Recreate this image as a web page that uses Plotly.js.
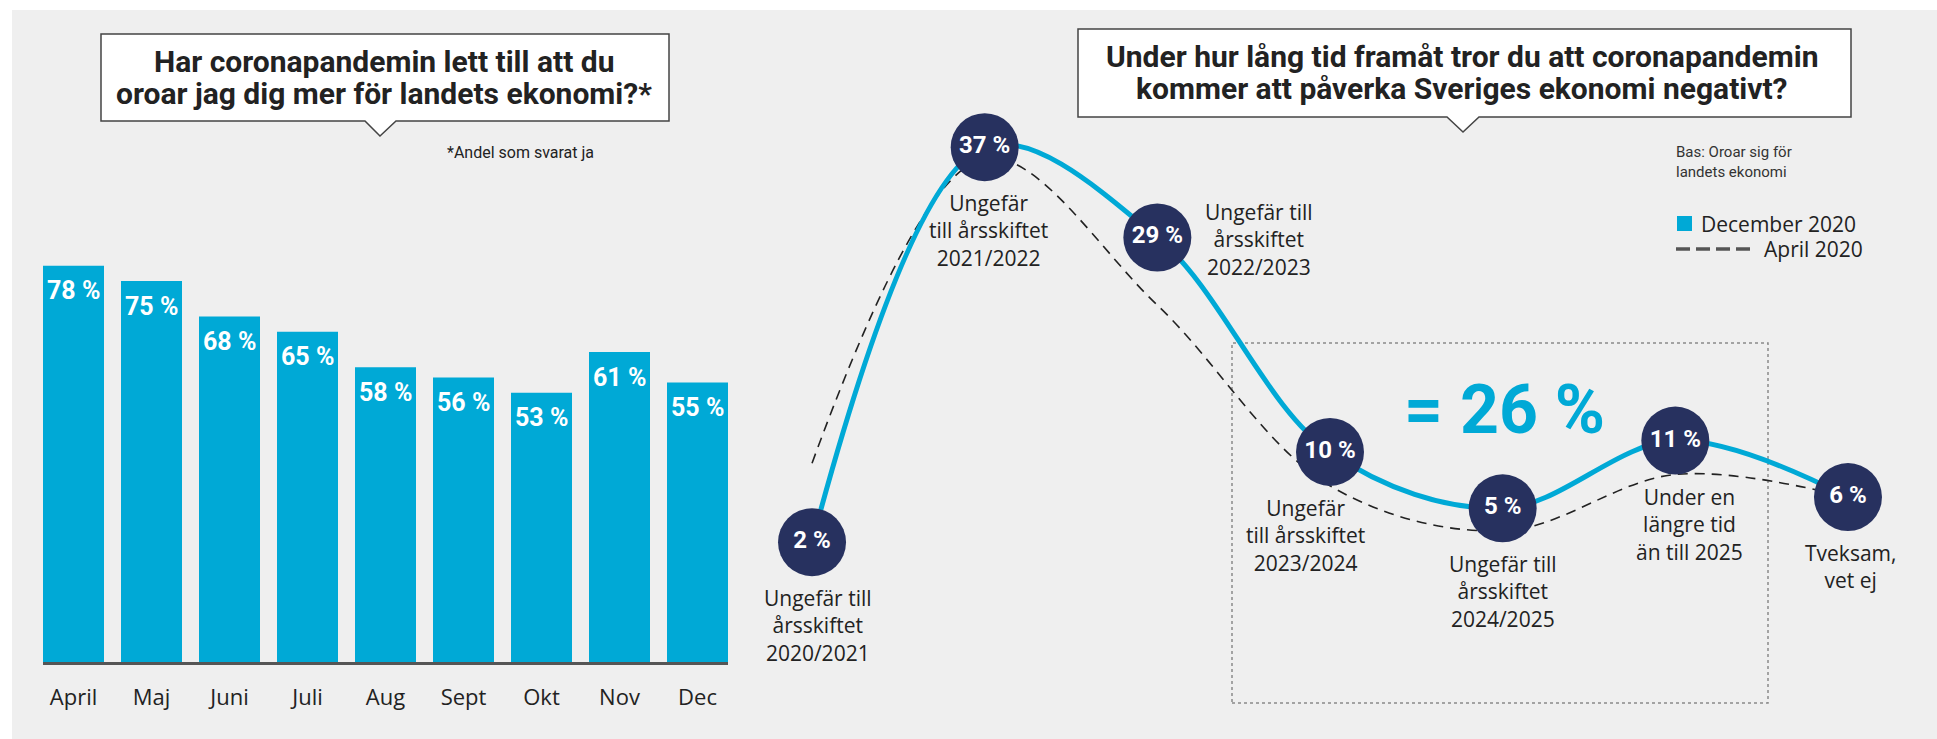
<!DOCTYPE html>
<html>
<head>
<meta charset="utf-8">
<script src="https://cdn.plot.ly/plotly-3.0.1.min.js"></script>
<style>
  html, body { margin: 0; padding: 0; background: #ffffff; }
  #chart { width: 1937px; height: 739px; }
</style>
</head>
<body>
<div id="chart"></div>
<script>
// ---------- DATA ----------
const months = ["April", "Maj", "Juni", "Juli", "Aug", "Sept", "Okt", "Nov", "Dec"];
const worriedShare = [78, 75, 68, 65, 58, 56, 53, 61, 55];

const horizons = [
  "Ungefär till<br>årsskiftet<br>2020/2021",
  "Ungefär<br>till årsskiftet<br>2021/2022",
  "Ungefär till<br>årsskiftet<br>2022/2023",
  "Ungefär<br>till årsskiftet<br>2023/2024",
  "Ungefär till<br>årsskiftet<br>2024/2025",
  "Under en<br>längre tid<br>än till 2025",
  "Tveksam,<br>vet ej"
];
const december2020 = [2, 37, 29, 10, 5, 11, 6];
const april2020 = [9, 36, 23, 7, 3, 8, 6];

const leftTitle = ["Har coronapandemin lett till att du", "oroar jag dig mer för landets ekonomi?*"];
const rightTitle = ["Under hur lång tid framåt tror du att coronapandemin", "kommer att påverka Sveriges ekonomi negativt?"];
const leftNote = "*Andel som svarat ja";
const baseNote = "Bas: Oroar sig för<br>landets ekonomi";
const highlightText = "= 26 %";
const legendNames = ["December 2020", "April 2020"];

// ---------- LAYOUT HELPERS ----------
const W = 1937, H = 739;
const px = x => x / W;
const py = y => 1 - y / H;
const BOLDFONT = "Roboto, 'Open Sans', 'DejaVu Sans', sans-serif";
const TEXTFONT = "'Open Sans', Roboto, 'DejaVu Sans', sans-serif";
const BLUE = "#00a9d6";
const NAVY = "#27315f";
const INK = "#222222";

// label placement offsets (style only): [xshift, yshift, yanchor]
const labelPlacement = [
  [6, -40, "top"], [4, -40, "top"], [102, -2, "middle"], [-25, -40, "top"],
  [0, -40, "top"], [14, -40, "top"], [3, -40, "top"]
];

function calloutPath(x0, y0, x1, y1, bl, br, tx, ty) {
  const p = [[x0, y0], [x1, y0], [x1, y1], [br, y1], [tx, ty], [bl, y1], [x0, y1]];
  return "M " + p.map(q => px(q[0]) + "," + py(q[1])).join(" L ") + " Z";
}

const traces = [
  {
    type: "bar",
    x: months,
    y: worriedShare,
    xaxis: "x",
    yaxis: "y",
    marker: { color: BLUE },
    hoverinfo: "skip",
    showlegend: false
  },
  {
    type: "scatter",
    mode: "lines",
    x: horizons,
    y: april2020,
    xaxis: "x2",
    yaxis: "y2",
    line: { color: "#222222", width: 1.6, dash: "10px,7px", shape: "spline", smoothing: 1 },
    hoverinfo: "skip",
    showlegend: false,
    cliponaxis: false
  },
  {
    type: "scatter",
    mode: "lines+markers+text",
    x: horizons,
    y: december2020,
    xaxis: "x2",
    yaxis: "y2",
    line: { color: BLUE, width: 5, shape: "spline", smoothing: 1 },
    marker: { color: NAVY, size: 68, line: { width: 0 } },
    text: december2020.map(v => v + " %"),
    textposition: "middle center",
    textfont: { family: BOLDFONT, size: 24, color: "#ffffff", weight: 700 },
    hoverinfo: "skip",
    showlegend: false,
    cliponaxis: false
  }
];

// bar value labels
const annotations = [];
months.forEach((m, i) => {
  annotations.push({
    xref: "x", yref: "y", x: m, y: worriedShare[i],
    yshift: -25, yanchor: "middle", showarrow: false,
    text: "<b>" + worriedShare[i] + " %</b>",
    font: { family: BOLDFONT, size: 25, color: "#ffffff" }
  });
});

// horizon labels
horizons.forEach((h, i) => {
  const pl = labelPlacement[i];
  annotations.push({
    xref: "x2", yref: "y2", x: h, y: december2020[i],
    xanchor: "center", yanchor: pl[2],
    xshift: pl[0], yshift: pl[1],
    showarrow: false, align: "center",
    text: h,
    font: { family: TEXTFONT, size: 21, color: INK }
  });
});

// titles
[[leftTitle, 384, [62, 93]], [rightTitle, 1462, [57, 88]]].forEach(t => {
  t[0].forEach((line, k) => {
    annotations.push({
      xref: "paper", yref: "paper", x: px(t[1]), y: py(t[2][k]),
      xanchor: "center", yanchor: "middle", showarrow: false,
      text: "<b>" + line + "</b>",
      font: { family: BOLDFONT, size: 30, color: INK }
    });
  });
});

annotations.push({
  xref: "paper", yref: "paper", x: px(445), y: py(152),
  xanchor: "left", yanchor: "middle", showarrow: false,
  text: leftNote, font: { family: BOLDFONT, size: 16, color: INK }
});
annotations.push({
  xref: "paper", yref: "paper", x: px(1674), y: py(162),
  xanchor: "left", yanchor: "middle", showarrow: false, align: "left",
  text: baseNote, font: { family: BOLDFONT, size: 15, color: "#333333" }
});
annotations.push({
  xref: "paper", yref: "paper", x: px(1504), y: py(410),
  xanchor: "center", yanchor: "middle", showarrow: false,
  text: "<b>" + highlightText + "</b>", font: { family: BOLDFONT, size: 68, color: BLUE }
});
annotations.push({
  xref: "paper", yref: "paper", x: px(1699), y: py(224),
  xanchor: "left", yanchor: "middle", showarrow: false,
  text: legendNames[0], font: { family: TEXTFONT, size: 21, color: INK }
});
annotations.push({
  xref: "paper", yref: "paper", x: px(1762), y: py(249),
  xanchor: "left", yanchor: "middle", showarrow: false,
  text: legendNames[1], font: { family: TEXTFONT, size: 21, color: INK }
});

const shapes = [
  // grey panel
  { type: "rect", xref: "paper", yref: "paper", x0: px(12), x1: 1, y0: 0, y1: py(10),
    fillcolor: "#efefef", line: { width: 0 }, layer: "below" },
  // dotted highlight frame
  { type: "rect", xref: "paper", yref: "paper", x0: px(1232), x1: px(1768), y0: py(703), y1: py(343),
    line: { color: "#8a8a8a", width: 1.5, dash: "dot" }, fillcolor: "rgba(0,0,0,0)", layer: "below" },
  // callouts
  { type: "path", xref: "paper", yref: "paper",
    path: calloutPath(101, 34, 669, 121, 365, 396, 380, 136),
    fillcolor: "#ffffff", line: { color: "#444444", width: 1.5 } },
  { type: "path", xref: "paper", yref: "paper",
    path: calloutPath(1078, 29, 1851, 117, 1447, 1479, 1463, 132),
    fillcolor: "#ffffff", line: { color: "#444444", width: 1.5 } },
  // legend keys
  { type: "rect", xref: "paper", yref: "paper", x0: px(1677), x1: px(1692), y0: py(231), y1: py(216),
    fillcolor: BLUE, line: { width: 0 } },
  { type: "line", xref: "paper", yref: "paper", x0: px(1676), x1: px(1752), y0: py(249), y1: py(249),
    line: { color: "#555555", width: 3.5, dash: "14px,6px" } }
];

const layout = {
  width: W, height: H,
  margin: { l: 0, r: 0, t: 0, b: 0, pad: 0 },
  paper_bgcolor: "#ffffff",
  plot_bgcolor: "rgba(0,0,0,0)",
  showlegend: false,
  bargap: 0.218,
  font: { family: TEXTFONT, color: INK },
  xaxis: {
    domain: [px(43), px(728)],
    anchor: "y",
    type: "category",
    range: [-0.391, 8.391],
    showgrid: false, zeroline: false,
    showline: true, linecolor: "#555555", linewidth: 2.5,
    ticks: "", ticklabelstandoff: 14,
    tickfont: { family: TEXTFONT, size: 22, color: INK },
    fixedrange: true
  },
  yaxis: {
    domain: [py(662), py(255.6)],
    anchor: "x",
    range: [0, 80],
    visible: false,
    showgrid: false, zeroline: false,
    fixedrange: true
  },
  xaxis2: {
    domain: [px(725.7), px(1934.3)],
    anchor: "y2",
    type: "category",
    range: [-0.5, 6.5],
    visible: false,
    showgrid: false, zeroline: false,
    fixedrange: true
  },
  yaxis2: {
    domain: [py(621.2), py(56.9)],
    anchor: "x2",
    range: [-5, 45],
    visible: false,
    showgrid: false, zeroline: false,
    fixedrange: true
  },
  annotations: annotations,
  shapes: shapes
};

Plotly.newPlot("chart", traces, layout, { staticPlot: true, displayModeBar: false });
</script>
</body>
</html>
